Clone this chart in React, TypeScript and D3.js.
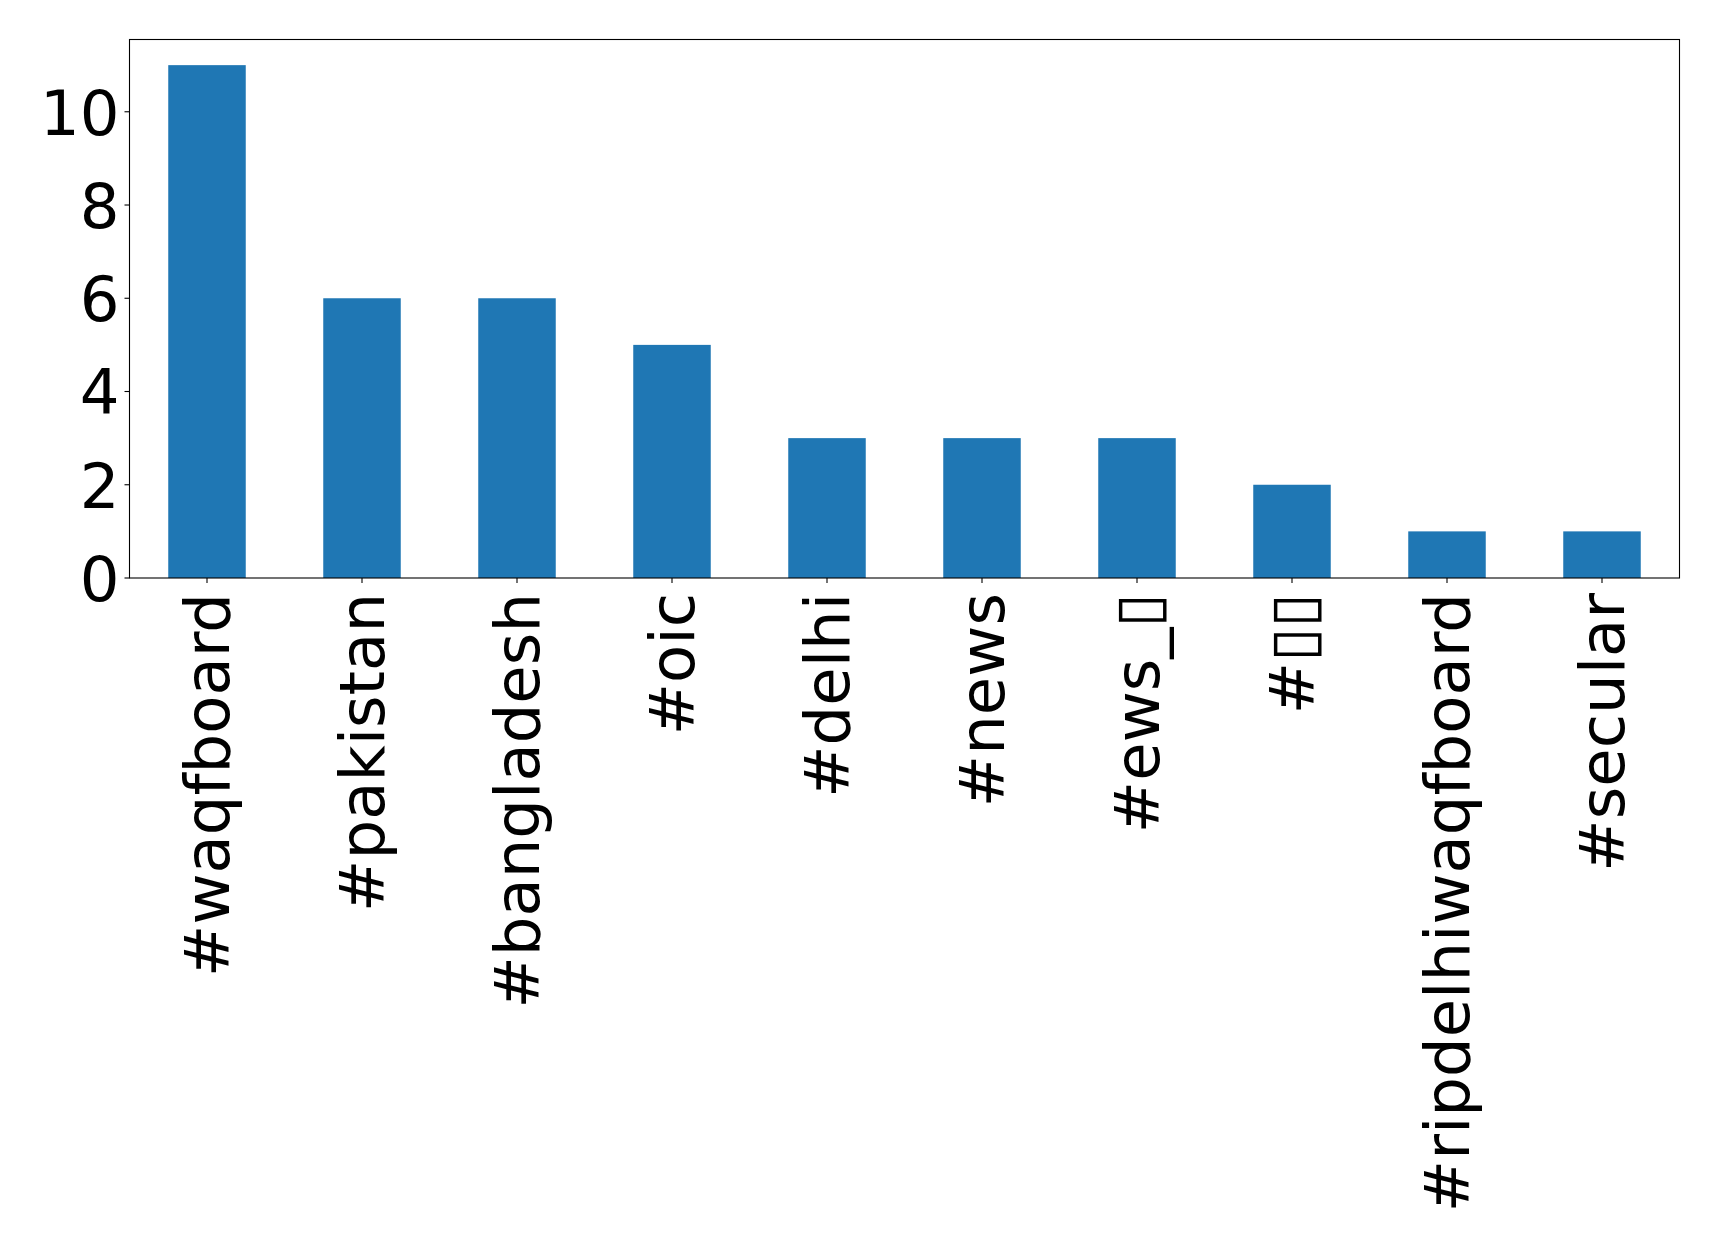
import React from "react";
import * as d3 from "d3";

const categories = ["#waqfboard", "#pakistan", "#bangladesh", "#oic", "#delhi", "#news", "#ews_\u25AF", "#\u25AF\u25AF", "#ripdelhiwaqfboard", "#secular"];
const counts = [11, 6, 6, 5, 3, 3, 3, 2, 1, 1];
const yTicks = [0, 2, 4, 6, 8, 10];

const W = 1719;
const H = 1247;
const left = 129.5;
const right = 1679.5;
const top = 39.5;
const bottom = 578;
const font = "'DejaVu Sans', sans-serif";
const fs = 62.5;

export default function App() {
  const x = d3.scaleLinear().domain([-0.5, categories.length - 0.5]).range([left, right]);
  const yMax = d3.max(counts)! * 1.05;
  const y = d3.scaleLinear().domain([0, yMax]).range([bottom, top]);
  const bw = (x(1) - x(0)) * 0.5;
  return (
    <svg width={W} height={H} style={{ position: "absolute", left: 0, top: 0, background: "#fff" }}>
      <rect x={0} y={0} width={W} height={H} fill="#fff" />
      {counts.map((v, i) => (
        <rect key={i} x={x(i) - bw / 2} y={y(v)} width={bw} height={y(0) - y(v)} fill="#1f77b4" />
      ))}
      <rect x={left} y={top} width={right - left} height={bottom - top} fill="none" stroke="#000" strokeWidth={1.1} />
      {yTicks.map((t) => (
        <g key={t}>
          <line x1={left - 5} x2={left} y1={y(t)} y2={y(t)} stroke="#000" strokeWidth={1.1} />
          <text x={left - 10} y={y(t) + 0.364 * fs} textAnchor="end" fontFamily={font} fontSize={fs} fill="#000">
            {t}
          </text>
        </g>
      ))}
      {categories.map((c, i) => (
        <g key={c}>
          <line x1={x(i)} x2={x(i)} y1={bottom} y2={bottom + 5} stroke="#000" strokeWidth={1.1} />
          <text
            transform={`translate(${x(i)},${bottom + 15}) rotate(-90)`}
            dy={0.35 * fs}
            textAnchor="end"
            fontFamily={font}
            fontSize={fs}
            fill="#000"
          >
            {c}
          </text>
        </g>
      ))}
    </svg>
  );
}
